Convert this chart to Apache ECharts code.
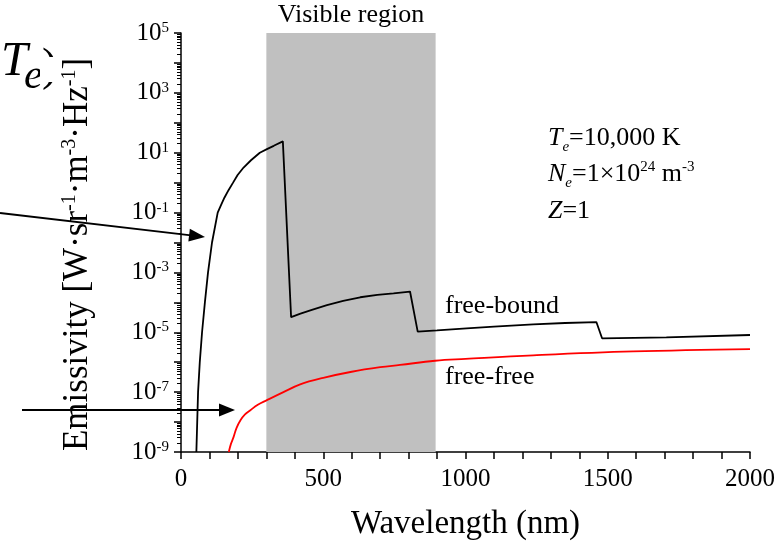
<!DOCTYPE html>
<html><head><meta charset="utf-8">
<script src="https://cdn.jsdelivr.net/npm/echarts@6/dist/echarts.min.js"></script>
<style>html,body{margin:0;padding:0;background:#fff}#c{width:781px;height:547px}</style>
</head><body><div id="c"></div>
<script>
const FONT = '"Liberation Serif", "Times New Roman", serif';

// ---- data ----
const freeBoundWavelength = [54, 57, 60, 66, 74, 84, 95, 109, 129, 141, 153, 167, 183, 199, 220, 246, 277, 302, 326, 358, 387, 420, 460, 513, 570, 630, 690, 747, 805, 832, 900, 1004, 1100, 1238, 1350, 1460, 1480, 1706, 2000];
const freeBoundEmissivity = [1e-9, 1e-8, 1e-7, 1e-6, 1e-5, 1e-4, 1e-3, 1e-2, 1e-1, 0.18, 0.32, 0.56, 1, 1.8, 3.2, 5.6, 10, 13.2, 17, 24, 3.2e-5, 4.2e-5, 5.6e-5, 8.1e-5, 1.12e-4, 1.48e-4, 1.78e-4, 2.0e-4, 2.3e-4, 1.05e-5, 1.15e-5, 1.35e-5, 1.55e-5, 1.85e-5, 2.04e-5, 2.2e-5, 6.3e-6, 6.8e-6, 8.1e-6];
const freeFreeWavelength = [168, 175, 185, 195, 209, 225, 244, 270, 302, 360, 419, 500, 600, 700, 770, 893, 1000, 1238, 1589, 2000];
const freeFreeEmissivity = [1e-9, 1.8e-9, 3.2e-9, 6.3e-9, 1.15e-8, 1.8e-8, 2.5e-8, 3.8e-8, 5.4e-8, 1.0e-7, 1.82e-7, 3.0e-7, 4.8e-7, 6.8e-7, 8.1e-7, 1.12e-6, 1.29e-6, 1.7e-6, 2.29e-6, 2.75e-6];
const visibleRegion = [300, 895];
const xTickLabels = [0, 500, 1000, 1500, 2000];
const yLabelExponents = [-9, -7, -5, -3, -1, 1, 3, 5];

// ---- helpers ----
const mctx = document.createElement('canvas').getContext('2d');
function tw(text, font) { mctx.font = font; return mctx.measureText(text).width; }
function row(x, baseline, pieces, align) {
  let total = 0;
  pieces.forEach(p => {
    p.font = (p.italic ? 'italic ' : '') + p.size + 'px ' + FONT;
    p.w = tw(p.t, p.font);
    total += p.w + (p.gap || 0);
  });
  let cx = align === 'center' ? x - total / 2 : x;
  const els = [];
  pieces.forEach(p => {
    cx += (p.gap || 0);
    els.push({
      type: 'text', silent: true, z: 100,
      style: {
        text: p.t, x: cx, y: baseline + (p.dy || 0) - 0.34 * p.size,
        font: p.font, fill: '#000',
        textAlign: 'left', textVerticalAlign: 'middle', align: 'left', verticalAlign: 'middle'
      }
    });
    cx += p.w;
  });
  return els;
}
function arrow(x1, y1, x2, y2) {
  const ang = Math.atan2(y2 - y1, x2 - x1);
  const L = 16, H = 6.5;
  const bx = x2 - L * Math.cos(ang), by = y2 - L * Math.sin(ang);
  const px = -Math.sin(ang) * H, py = Math.cos(ang) * H;
  return [
    { type: 'line', silent: true, z: 100, shape: { x1: x1, y1: y1, x2: bx + 2 * Math.cos(ang), y2: by + 2 * Math.sin(ang) }, style: { stroke: '#000', lineWidth: 2 } },
    { type: 'polygon', silent: true, z: 100, shape: { points: [[x2, y2], [bx + px, by + py], [bx - px, by - py]] }, style: { fill: '#000' } }
  ];
}

const fbData = freeBoundWavelength.map((w, i) => [w, Math.log10(freeBoundEmissivity[i])]);
const ffData = freeFreeWavelength.map((w, i) => [w, Math.log10(freeFreeEmissivity[i])]);

// log-style minor ticks (2..9 within each decade)
const minorLogTicks = [];
for (let n = -9; n < 5; n++) for (let k = 2; k <= 9; k++) minorLogTicks.push(n + Math.log10(k));

let graphics = [];
graphics = graphics.concat(row(351, 24, [{ t: 'Visible region', size: 26 }], 'center'));
graphics = graphics.concat(row(548, 147, [{ t: 'T', size: 26, italic: true }, { t: 'e', size: 15, italic: true, dy: 5 }, { t: '=10,000 K', size: 26 }]));
graphics = graphics.concat(row(548, 183, [{ t: 'N', size: 26, italic: true }, { t: 'e', size: 15, italic: true, dy: 5 }, { t: '=1×10', size: 26 }, { t: '24', size: 15, dy: -11 }, { t: ' m', size: 26 }, { t: '-3', size: 15, dy: -11 }]));
graphics = graphics.concat(row(548, 220, [{ t: 'Z', size: 26, italic: true }, { t: '=1', size: 26 }]));
graphics = graphics.concat(row(445, 315, [{ t: 'free-bound', size: 26 }]));
graphics = graphics.concat(row(445, 386, [{ t: 'free-free', size: 26 }]));
graphics = graphics.concat(row(1, 79, [{ t: 'T', size: 48, italic: true }]));
graphics = graphics.concat(row(24, 91, [{ t: 'e', size: 42, italic: true }]));
graphics = graphics.concat(row(42, 84, [{ t: ')', size: 46 }]));
graphics.push({ type: 'rect', silent: true, z: 101, shape: { x: 40, y: 57, width: 18, height: 25 }, style: { fill: '#fff' } });
graphics = graphics.concat(arrow(0, 213, 205, 237));
graphics = graphics.concat(arrow(22, 410, 235, 410));

const chart = echarts.init(document.getElementById('c'), null, { renderer: 'canvas' });
chart.setOption({
  animation: false,
  backgroundColor: '#fff',
  grid: { left: 181, right: 31, top: 33, bottom: 95, containLabel: false, outerBoundsMode: 'none' },
  xAxis: {
    type: 'value', min: 0, max: 2000, interval: 100,
    axisLine: { show: true, onZero: false, lineStyle: { color: '#000', width: 1.5 } },
    axisTick: { show: true, length: 7, lineStyle: { color: '#000', width: 1.5 } },
    axisLabel: {
      formatter: v => xTickLabels.includes(v) ? String(v) : '',
      fontFamily: FONT, fontSize: 25, color: '#000', margin: 15
    },
    splitLine: { show: false },
    name: 'Wavelength (nm)', nameLocation: 'middle', nameGap: 56,
    nameTextStyle: { fontFamily: FONT, fontSize: 33, color: '#000' }
  },
  yAxis: [{
    type: 'value', min: -9, max: 5, interval: 1,
    axisLine: { show: true, onZero: false, lineStyle: { color: '#000', width: 1.5 } },
    axisTick: { show: true, length: 7, lineStyle: { color: '#000', width: 1.5 } },
    axisLabel: {
      formatter: v => yLabelExponents.includes(v) ? '{b|10}{s|' + v + '}' : '',
      margin: 12,
      rich: {
        b: { fontFamily: FONT, fontSize: 25, color: '#000' },
        s: { fontFamily: FONT, fontSize: 15, color: '#000', verticalAlign: 'top' }
      }
    },
    splitLine: { show: false },
    name: '{t|Emissivity [W·sr}{s|-1}{t|·m}{s|-3}{t|·Hz}{s|-1}{t|]}',
    nameLocation: 'middle', nameGap: 86, nameRotate: 90,
    nameTextStyle: {
      fontFamily: FONT, fontSize: 35, color: '#000', padding: [0, 24, 0, 0],
      rich: {
        t: { fontFamily: FONT, fontSize: 35, color: '#000' },
        s: { fontFamily: FONT, fontSize: 20, color: '#000', verticalAlign: 'top' }
      }
    }
  }, {
    type: 'value', min: -9, max: 5, position: 'left', offset: 0,
    axisLine: { show: false },
    axisTick: { show: true, length: 4, customValues: minorLogTicks, lineStyle: { color: '#000', width: 1 } },
    axisLabel: { show: false },
    splitLine: { show: false }
  }],
  series: [
    {
      name: 'free-bound', type: 'line', data: fbData, symbol: 'none', showSymbol: false,
      lineStyle: { color: '#000', width: 1.8 }, z: 3,
      markArea: {
        silent: true, itemStyle: { color: '#c0c0c0' },
        data: [[{ xAxis: visibleRegion[0] }, { xAxis: visibleRegion[1] }]]
      }
    },
    {
      name: 'free-free', type: 'line', data: ffData, symbol: 'none', showSymbol: false,
      smooth: 0.4,
      lineStyle: { color: '#ff0000', width: 1.8 }, z: 4
    }
  ],
  graphic: { elements: graphics }
});
</script></body></html>
